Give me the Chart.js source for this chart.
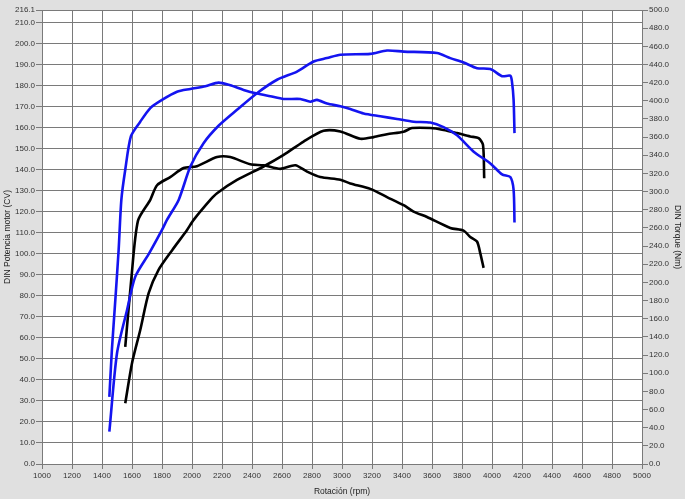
<!DOCTYPE html>
<html>
<head>
<meta charset="utf-8">
<script src="https://cdn.jsdelivr.net/npm/chart.js@4"></script>
<style>
  body { margin: 0; background: #e0e0e0; }
  canvas { display: block; }
</style>
</head>
<body>
<canvas id="dyno" width="685" height="499"></canvas>
<script>
// curva azul (potencia / torque) y curva negra
const bluePowerRpm = [1449,1500,1567,1622,1716,1800,1833,1911,1989,2077,2177,2300,2433,2567,2700,2811,2900,2989,3189,3300,3411,3633,3722,3811,3900,3989,4067,4122,4133,4144,4150];
const bluePowerCv  = [15.4,52.7,73.3,89.2,100.5,111.4,116.2,125.7,141.6,152.7,161,168.6,176.5,182.9,186.8,191.6,193.2,194.8,195.2,196.8,196.3,195.6,193.2,191.1,188.4,188,184.6,184.8,182,173.3,157.5];

const blueTorqueRpm = [1449,1466,1489,1511,1529,1555,1593,1655,1722,1800,1900,1989,2089,2177,2255,2344,2433,2522,2611,2722,2789,2833,2900,2989,3055,3144,3255,3367,3477,3589,3677,3767,3878,3989,4067,4122,4144,4150];
const blueTorqueNm  = [74,126,181,236,291,324,361,377,392,401,410,413,416,420,417,412,408,405,402,402,399,401,397,394,391,386,383,380,377,376,371,362,344,331,319,316,302,266];

const blackPowerRpm = [1555,1600,1655,1711,1777,1869,1967,2011,2122,2167,2300,2477,2611,2744,2877,2989,3122,3211,3300,3411,3467,3589,3677,3767,3855,3911,3940,3948];
const blackPowerCv  = [28.9,48,63.8,81.3,92.4,101.9,111.4,116.2,125.7,128.9,135.2,141.6,147.1,153.5,158.6,158.3,154.8,155.6,157,158.2,159.9,159.9,159,157.5,155.9,155.1,151.9,136];

const blackTorqueRpm = [1555,1595,1640,1722,1767,1855,1944,2033,2167,2255,2389,2477,2589,2689,2767,2855,2989,3055,3189,3300,3411,3477,3567,3722,3811,3855,3900,3922,3944];
const blackTorqueNm  = [129,203,268,291,307,316,326,328,338,338,330,329,325,329,322,316,313,309,303,294,285,278,272,260,257,250,245,232,216];

// ticks
const powerTicks = [0,10,20,30,40,50,60,70,80,90,100,110,120,130,140,150,160,170,180,190,200,210,216.1];

function pts(xs, ys) {
  return xs.map((x, i) => ({ x: x, y: ys[i] }));
}

const bgPlugin = {
  id: 'bg',
  beforeDraw(chart) {
    const c = chart.ctx, a = chart.chartArea;
    c.save();
    c.fillStyle = '#e0e0e0';
    c.fillRect(0, 0, chart.width, chart.height);
    c.fillStyle = '#ffffff';
    c.fillRect(a.left, a.top, a.right - a.left, a.bottom - a.top);
    c.restore();
  }
};

const tickFont = { family: 'Liberation Sans, Arial', size: 8 };
const titleFont = { family: 'Liberation Sans, Arial', size: 8.5 };
const gridColor = '#7a7a7a';

function line(data, color, axis) {
  return {
    data: data,
    yAxisID: axis,
    borderColor: color,
    borderWidth: 2.6,
    pointRadius: 0,
    tension: 0.25,
    fill: false
  };
}

new Chart(document.getElementById('dyno'), {
  type: 'line',
  data: {
    datasets: [
      line(pts(bluePowerRpm, bluePowerCv), '#1414f0', 'y'),
      line(pts(blueTorqueRpm, blueTorqueNm), '#1414f0', 'y1'),
      line(pts(blackPowerRpm, blackPowerCv), '#000000', 'y'),
      line(pts(blackTorqueRpm, blackTorqueNm), '#000000', 'y1')
    ]
  },
  options: {
    responsive: false,
    animation: false,
    layout: { padding: { top: 10, left: 0, right: 0, bottom: 0 } },
    plugins: { legend: { display: false }, tooltip: { enabled: false } },
    scales: {
      x: {
        type: 'linear',
        min: 1000,
        max: 5000,
        ticks: { stepSize: 200, font: tickFont, color: '#333', padding: 2, maxRotation: 0, callback: v => String(v) },
        grid: { color: gridColor, tickLength: 5 },
        border: { color: gridColor },
        title: { display: true, text: 'Rotación (rpm)', font: titleFont, color: '#222', padding: 2 },
        afterFit(s) { s.height = 35; }
      },
      y: {
        position: 'left',
        min: 0,
        max: 216.1,
        afterBuildTicks(s) { s.ticks = powerTicks.map(v => ({ value: v })); },
        ticks: { font: tickFont, color: '#333', padding: 1, callback: v => v.toFixed(1) },
        grid: { color: gridColor, tickLength: 6 },
        border: { color: gridColor },
        title: { display: true, text: 'DIN Potencia motor (CV)', font: titleFont, color: '#222', padding: 3 },
        afterFit(s) { s.width = 42; }
      },
      y1: {
        position: 'right',
        min: 0,
        max: 500,
        ticks: { stepSize: 20, font: tickFont, color: '#333', padding: 1, callback: v => v.toFixed(1) },
        grid: { drawOnChartArea: false, color: gridColor, tickLength: 6 },
        border: { color: gridColor },
        title: { display: true, text: 'DIN Torque (Nm)', font: titleFont, color: '#222', padding: 3 },
        afterFit(s) { s.width = 43; }
      }
    }
  },
  plugins: [bgPlugin]
});
</script>
</body>
</html>
